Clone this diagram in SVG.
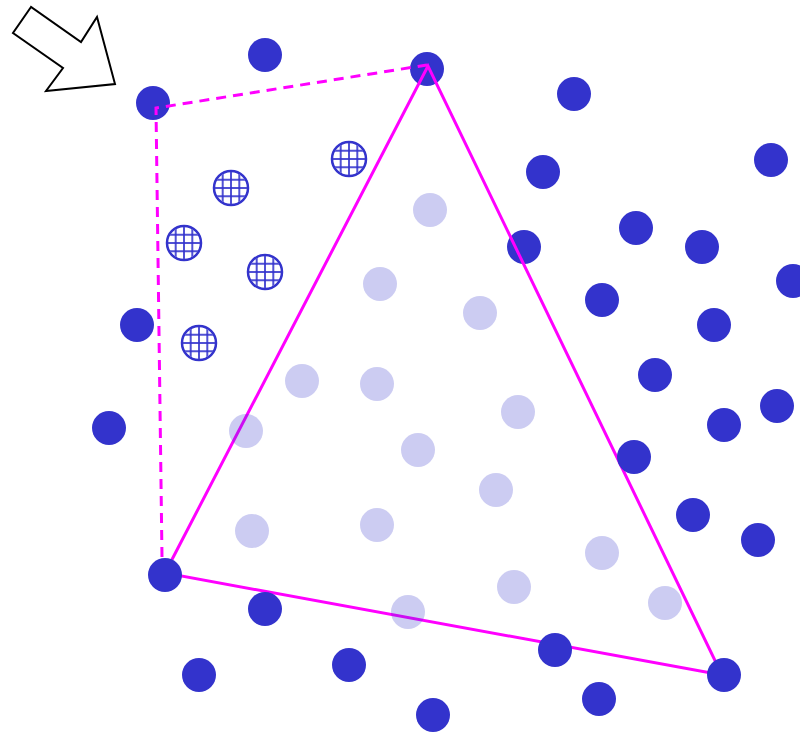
<svg xmlns="http://www.w3.org/2000/svg" width="800" height="734" viewBox="0 0 800 734">
<defs>
<style>
.d{fill:#3333cc}
.l{fill:#3333cc;fill-opacity:0.25}
.h{fill:#ffffff;stroke:#3333cc;stroke-width:2.5}
.g{stroke:#3333cc;stroke-width:2;stroke-opacity:0.85}
.e{fill:none;stroke:#ff00ff;stroke-width:3}
.dash{stroke-dasharray:10 7}
</style>
<clipPath id="cc"><circle cx="0" cy="0" r="16"/></clipPath>
<g id="hatch">
<circle class="h" cx="0" cy="0" r="17"/>
<g clip-path="url(#cc)">
<line class="g" x1="-8.3" y1="-17" x2="-8.3" y2="17"/>
<line class="g" x1="0" y1="-17" x2="0" y2="17"/>
<line class="g" x1="8.3" y1="-17" x2="8.3" y2="17"/>
<line class="g" x1="-17" y1="-8.3" x2="17" y2="-8.3"/>
<line class="g" x1="-17" y1="0" x2="17" y2="0"/>
<line class="g" x1="-17" y1="8.3" x2="17" y2="8.3"/>
</g>
</g>
</defs>
<rect width="800" height="734" fill="#ffffff"/>
<g id="pointer"><polygon points="31,7 13,33 63,68 46,91 115,84 97,17 81,42" fill="#ffffff" stroke="#000000" stroke-width="2"/></g>
<g id="under-nodes">
<g id="n-top"><circle class="d" cx="427" cy="69" r="17"/></g>
<g id="n-tl"><circle class="d" cx="153" cy="103" r="17"/></g>
<g id="n-524-247"><circle class="d" cx="524" cy="247" r="17"/></g>
</g>
<g id="connectors">
<polyline class="e dash" points="162,557 156,108 427,65"/>
<polygon class="e" points="428,66 165,573 722,675" stroke-linejoin="miter"/>
</g>
<g id="dark-nodes">
<g id="n1"><circle class="d" cx="265" cy="55" r="17"/></g>
<g id="n2"><circle class="d" cx="574" cy="94" r="17"/></g>
<g id="n3"><circle class="d" cx="543" cy="172" r="17"/></g>
<g id="n4"><circle class="d" cx="771" cy="160" r="17"/></g>
<g id="n5"><circle class="d" cx="636" cy="228" r="17"/></g>
<g id="n6"><circle class="d" cx="702" cy="247" r="17"/></g>
<g id="n7"><circle class="d" cx="793" cy="281" r="17"/></g>
<g id="n8"><circle class="d" cx="602" cy="300" r="17"/></g>
<g id="n9"><circle class="d" cx="714" cy="325" r="17"/></g>
<g id="n10"><circle class="d" cx="137" cy="325" r="17"/></g>
<g id="n11"><circle class="d" cx="655" cy="375" r="17"/></g>
<g id="n12"><circle class="d" cx="777" cy="406" r="17"/></g>
<g id="n13"><circle class="d" cx="724" cy="425" r="17"/></g>
<g id="n14"><circle class="d" cx="109" cy="428" r="17"/></g>
<g id="n15"><circle class="d" cx="634" cy="457" r="17"/></g>
<g id="n16"><circle class="d" cx="693" cy="515" r="17"/></g>
<g id="n17"><circle class="d" cx="758" cy="540" r="17"/></g>
<g id="n18"><circle class="d" cx="165" cy="575" r="17"/></g>
<g id="n19"><circle class="d" cx="265" cy="609" r="17"/></g>
<g id="n20"><circle class="d" cx="555" cy="650" r="17"/></g>
<g id="n21"><circle class="d" cx="199" cy="675" r="17"/></g>
<g id="n22"><circle class="d" cx="349" cy="665" r="17"/></g>
<g id="n23"><circle class="d" cx="724" cy="675" r="17"/></g>
<g id="n24"><circle class="d" cx="599" cy="699" r="17"/></g>
<g id="n25"><circle class="d" cx="433" cy="715" r="17"/></g>
</g>
<g id="light-nodes">
<g id="p1"><circle class="l" cx="430" cy="210" r="17"/></g>
<g id="p2"><circle class="l" cx="380" cy="284" r="17"/></g>
<g id="p3"><circle class="l" cx="480" cy="313" r="17"/></g>
<g id="p4"><circle class="l" cx="302" cy="381" r="17"/></g>
<g id="p5"><circle class="l" cx="377" cy="384" r="17"/></g>
<g id="p6"><circle class="l" cx="518" cy="412" r="17"/></g>
<g id="p7"><circle class="l" cx="246" cy="431" r="17"/></g>
<g id="p8"><circle class="l" cx="418" cy="450" r="17"/></g>
<g id="p9"><circle class="l" cx="496" cy="490" r="17"/></g>
<g id="p10"><circle class="l" cx="252" cy="531" r="17"/></g>
<g id="p11"><circle class="l" cx="377" cy="525" r="17"/></g>
<g id="p12"><circle class="l" cx="602" cy="553" r="17"/></g>
<g id="p13"><circle class="l" cx="514" cy="587" r="17"/></g>
<g id="p14"><circle class="l" cx="408" cy="612" r="17"/></g>
<g id="p15"><circle class="l" cx="665" cy="603" r="17"/></g>
</g>
<g id="hatched-nodes">
<g id="h1"><use href="#hatch" x="349" y="159"/></g>
<g id="h2"><use href="#hatch" x="231" y="188"/></g>
<g id="h3"><use href="#hatch" x="184" y="243"/></g>
<g id="h4"><use href="#hatch" x="265" y="272"/></g>
<g id="h5"><use href="#hatch" x="199" y="343"/></g>
</g>
</svg>
